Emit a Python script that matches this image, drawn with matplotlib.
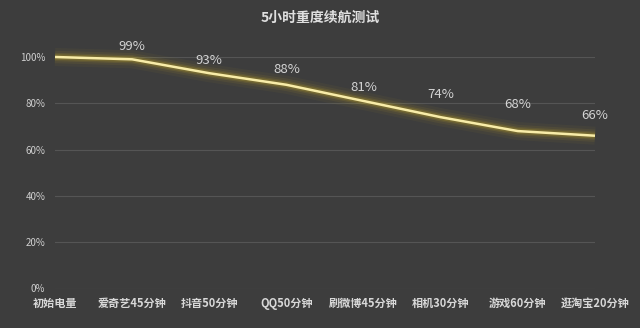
import matplotlib
matplotlib.use("Agg")
import matplotlib.pyplot as plt
from matplotlib.ticker import FuncFormatter

plt.rcParams['font.family'] = ['Noto Sans CJK SC', 'DejaVu Sans']

title = "5小时重度续航测试"
categories = ["初始电量", "爱奇艺45分钟", "抖音50分钟", "QQ50分钟",
              "刷微博45分钟", "相机30分钟", "游戏60分钟", "逛淘宝20分钟"]
battery = [100, 99, 93, 88, 81, 74, 68, 66]
labelled = [False, True, True, True, True, True, True, True]
yticks = [0, 20, 40, 60, 80, 100]

# vertical offset (points) of each value label centre above its point
label_dy = [9.5, 9, 9.5, 11, 10, 16.5, 19, 14.5]

bg = "#3d3d3d"
fig = plt.figure(figsize=(6.4, 3.28), dpi=100, facecolor=bg)
ax = fig.add_axes([55 / 640, 1 - 288.5 / 328, 540 / 640, (288.5 - 57) / 328])
ax.set_facecolor(bg)

x = list(range(len(categories)))

# soft glow around the line
for lw, a in [(13, 0.045), (9, 0.07), (6, 0.11), (4, 0.18)]:
    ax.plot(x, battery, color="#e0c020", lw=lw, alpha=a,
            solid_capstyle="butt", solid_joinstyle="round", clip_on=False, zorder=3)
ax.plot(x, battery, color="#f8eca8", lw=1.8, solid_capstyle="butt",
        clip_on=False, zorder=4)

for xi, v, show, dy in zip(x, battery, labelled, label_dy):
    if show:
        ax.annotate(f"{v}%", (xi, v), xytext=(0, dy), textcoords="offset points",
                    ha="center", va="center", color="#d4d4d4", fontsize=9.5)

ax.set_xlim(0, len(categories) - 1)
ax.set_ylim(0, 100)
ax.set_yticks(yticks)
ax.yaxis.set_major_formatter(FuncFormatter(lambda v, p: f"{v:.0f}%"))
ax.set_xticks(x)
ax.set_xticklabels(categories)

ax.grid(axis="y", color="#555555", lw=0.8)
ax.set_axisbelow(True)
for s in ax.spines.values():
    s.set_visible(False)
ax.tick_params(axis="both", length=0)
ax.tick_params(axis="y", labelsize=7, labelcolor="#d0d0d0", pad=7)
ax.tick_params(axis="x", labelsize=8, labelcolor="#d8d8d8", pad=6)
for t in ax.get_xticklabels():
    t.set_fontweight("bold")

fig.text(0.5, 1 - 18 / 328, title, ha="center", va="center",
         color="#e0e0e0", fontsize=10, fontweight="bold")

fig.savefig("out.png", dpi=100, facecolor=bg)
